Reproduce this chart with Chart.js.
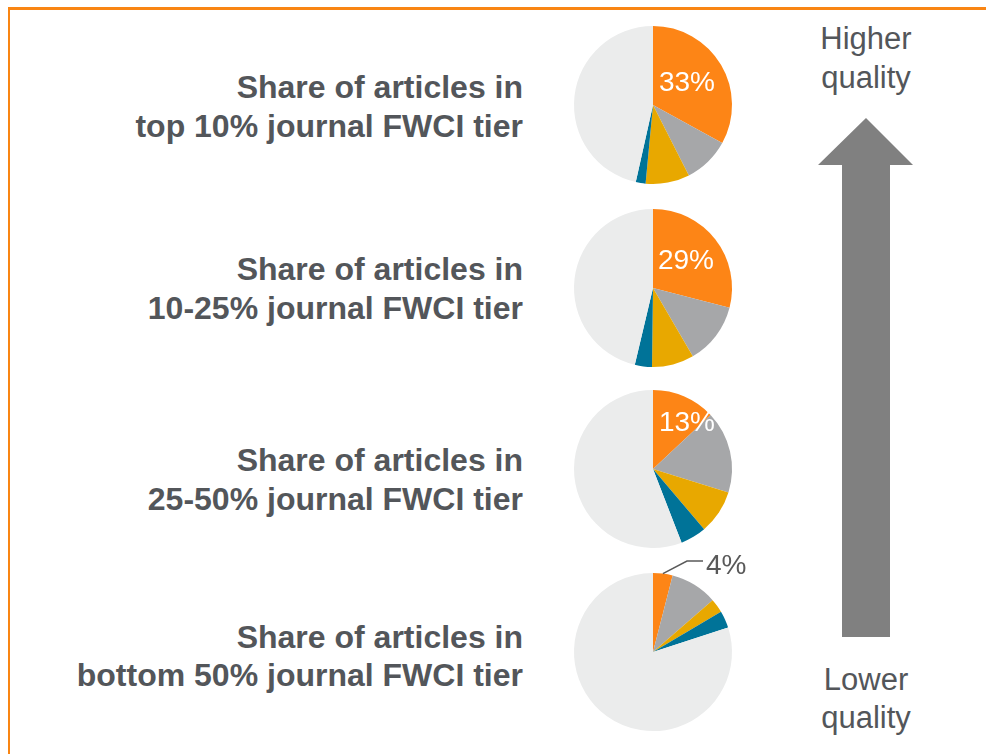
<!DOCTYPE html>
<html>
<head>
<meta charset="utf-8">
<script src="https://cdn.jsdelivr.net/npm/chart.js@4.4.1/dist/chart.umd.min.js"></script>
<style>
  html, body { margin:0; padding:0; background:#fff; }
  body { width:986px; height:754px; position:relative; overflow:hidden; font-family:"Liberation Sans", Arial, sans-serif; }
  #frame { position:absolute; left:8px; top:7px; right:-10px; bottom:-10px; border-top:3px solid #F98513; border-left:2px solid #F98513; }
  .t { position:absolute; white-space:nowrap; line-height:0; color:#53565A; }
  .lbl { font-weight:bold; font-size:32px; }
  .q { font-size:31px; }
  canvas.pie { position:absolute; }
  svg { position:absolute; left:0; top:0; }
</style>
</head>
<body>
<div id="frame"></div>
<svg width="986" height="754"><polygon id="arrow" fill="#808080"></polygon></svg>
<script>
// ---- data ----
const tiers = ['top 10%', '10-25%', '25-50%', 'bottom 50%'];
const segmentNames = ['Focus share', 'Segment B', 'Segment C', 'Segment D', 'Remainder'];
const focusShare = [33, 29, 13, 4];
const segmentB = [9.5, 12.6, 16.8, 9.6];
const segmentC = [9, 8.6, 9, 2.9];
const segmentD = [2, 3.5, 5.3, 3.5];
const remainder = [46.5, 46.3, 55.9, 80];
const labelLine1 = 'Share of articles in';
const labelLine2Suffix = ' journal FWCI tier';
const arrowTop = 'Higher\nquality';
const arrowBottom = 'Lower\nquality';

// ---- styling / layout ----
const colors = ['#FD8516', '#A6A7A9', '#E8A800', '#007398', '#EBECEC'];
const pieCX = 653;
const pieCY = [105, 288, 469, 652];
const pieR = 79;
const canvasSize = 240;
const labelBaselines = [[98, 137], [280, 319], [471, 510], [648, 686]];
const labelRight = 523;
const pctOffsets = [
  {dx: 34, dy: -22, inside: true},
  {dx: 33, dy: -27, inside: true},
  {dx: 34, dy: -46, inside: true},
  {dx: 53, dy: -86, inside: false, elbow: [34, -91], end: [50, -91]}
];

function addText(txt, cls, x, baseline, align, fs) {
  const d = document.createElement('div');
  d.className = 't ' + cls;
  d.textContent = txt;
  const top = baseline - 0.3465 * fs;
  d.style.top = top + 'px';
  if (align === 'right') { d.style.right = (986 - x) + 'px'; }
  else if (align === 'center') { d.style.left = x + 'px'; d.style.transform = 'translateX(-50%)'; }
  else { d.style.left = x + 'px'; }
  document.body.appendChild(d);
}

tiers.forEach((tier, i) => {
  addText(labelLine1, 'lbl', labelRight, labelBaselines[i][0], 'right', 32);
  addText(tier + labelLine2Suffix, 'lbl', labelRight, labelBaselines[i][1], 'right', 32);
});
const topLines = arrowTop.split('\n');
addText(topLines[0], 'q', 866, 50, 'center', 31);
addText(topLines[1], 'q', 866, 89, 'center', 31);
const botLines = arrowBottom.split('\n');
addText(botLines[0], 'q', 866, 691, 'center', 31);
addText(botLines[1], 'q', 866, 729, 'center', 31);

document.getElementById('arrow').setAttribute('points',
  '866,118 913,165 890,165 890,637 842,637 842,165 818,165');

const pctPlugin = {
  id: 'pctLabel',
  afterDatasetsDraw(chart, args, opts) {
    const arc = chart.getDatasetMeta(0).data[0];
    const p = arc.getProps(['x', 'y', 'startAngle', 'endAngle', 'outerRadius'], true);
    const ctx = chart.ctx;
    ctx.save();
    ctx.font = '28px "Liberation Sans", Arial, sans-serif';
    ctx.textBaseline = 'middle';
    const o = opts.pos;
    if (o.inside) {
      ctx.fillStyle = '#ffffff';
      ctx.textAlign = 'center';
      ctx.fillText(opts.text, p.x + o.dx, p.y + o.dy);
    } else {
      const mid = (p.startAngle + p.endAngle) / 2;
      ctx.strokeStyle = '#595959';
      ctx.lineWidth = 1.5;
      ctx.beginPath();
      ctx.moveTo(p.x + Math.cos(mid) * p.outerRadius, p.y + Math.sin(mid) * p.outerRadius);
      ctx.lineTo(p.x + o.elbow[0], p.y + o.elbow[1]);
      ctx.lineTo(p.x + o.end[0], p.y + o.end[1]);
      ctx.stroke();
      ctx.fillStyle = '#595959';
      ctx.textAlign = 'left';
      ctx.fillText(opts.text, p.x + o.dx, p.y + o.dy);
    }
    ctx.restore();
  }
};

tiers.forEach((tier, i) => {
  const cv = document.createElement('canvas');
  cv.className = 'pie';
  cv.width = canvasSize; cv.height = canvasSize;
  cv.style.width = canvasSize + 'px'; cv.style.height = canvasSize + 'px';
  cv.style.left = (pieCX - canvasSize / 2) + 'px';
  cv.style.top = (pieCY[i] - canvasSize / 2) + 'px';
  document.body.appendChild(cv);
  new Chart(cv, {
    type: 'pie',
    data: {
      labels: segmentNames,
      datasets: [{
        data: [focusShare[i], segmentB[i], segmentC[i], segmentD[i], remainder[i]],
        backgroundColor: colors,
        borderWidth: 0,
        hoverOffset: 0
      }]
    },
    options: {
      responsive: false,
      animation: false,
      events: [],
      layout: { padding: canvasSize / 2 - pieR },
      plugins: {
        legend: { display: false },
        tooltip: { enabled: false },
        pctLabel: { text: focusShare[i] + '%', pos: pctOffsets[i] }
      }
    },
    plugins: [pctPlugin]
  });
});
</script>
</body>
</html>
